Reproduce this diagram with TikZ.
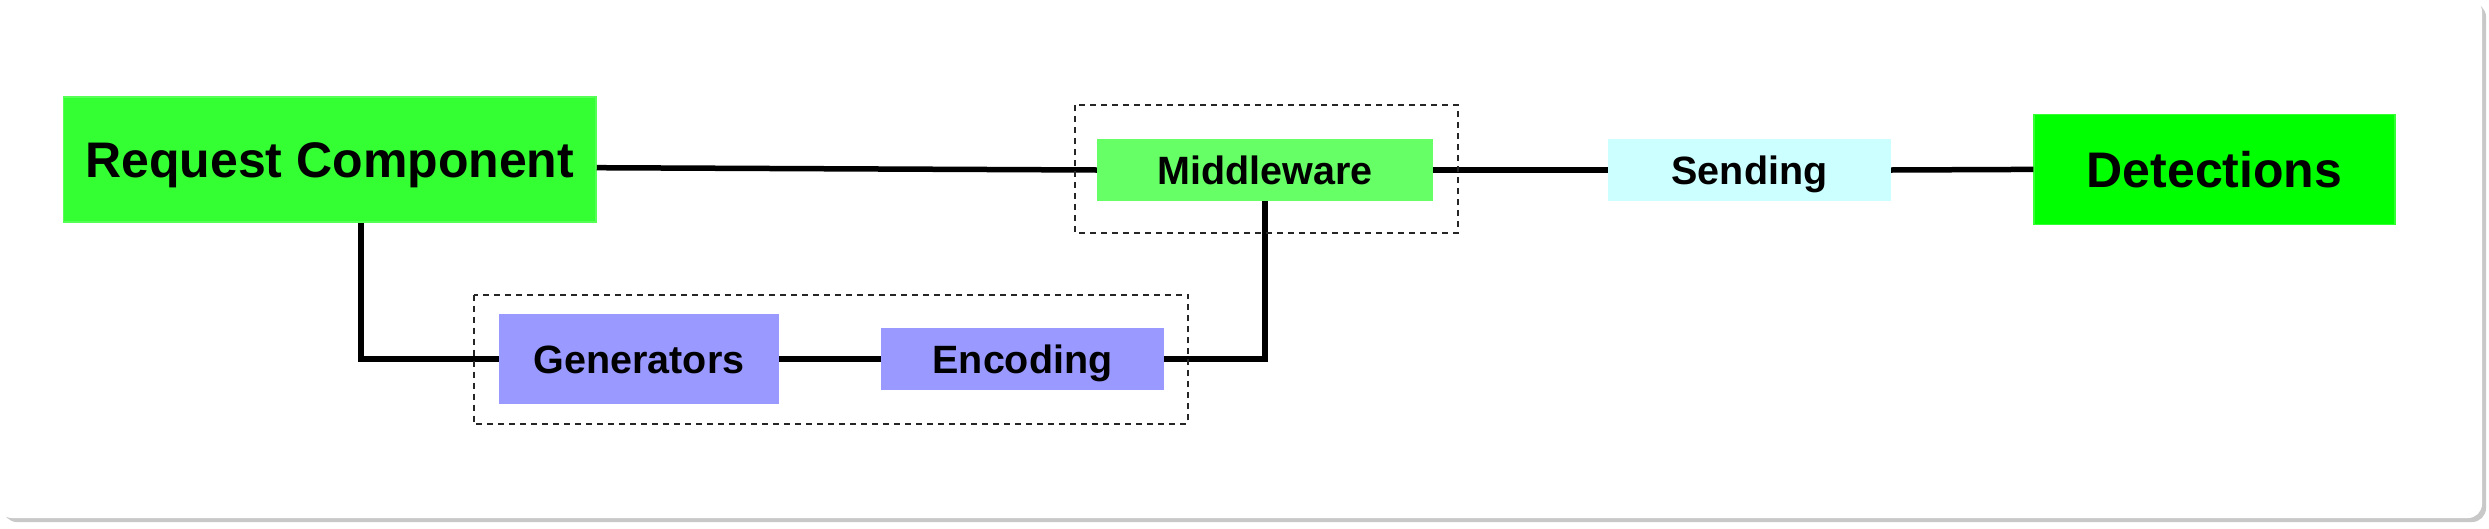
\documentclass[tikz,border=0pt]{standalone}
\usepackage{fontspec}
\setmainfont{Liberation Sans}
\usetikzlibrary{calc}
\definecolor{rcgreen}{HTML}{33FF33}
\definecolor{rcedge}{HTML}{55FF55}
\definecolor{detgreen}{HTML}{00FF00}
\definecolor{detedge}{HTML}{33FF33}
\definecolor{mwgreen}{HTML}{66FF66}
\definecolor{sendcyan}{HTML}{CCFFFF}
\definecolor{genblue}{HTML}{9999FF}
\definecolor{shadowgray}{HTML}{C8C8C8}
\begin{document}
\begin{tikzpicture}[x=1pt,y=-1pt,
  blk/.style={rectangle, inner sep=0pt, text depth=0pt, align=center},
  bigfont/.style={font=\fontsize{50}{60}\selectfont\bfseries, text height=35.8pt},
  smallfont/.style={font=\fontsize{39.5}{47}\selectfont\bfseries, text height=28.3pt},
  conn/.style={draw=black, line width=5.5pt},
  group/.style={draw=black!85, line width=2pt, dash pattern=on 6pt off 5pt}]
% canvas and card
\path[fill=white] (0,0) rectangle (2489,528);
\useasboundingbox (0,0) rectangle (2489,528);
\fill[shadowgray, rounded corners=14pt] (3,3) rectangle (2486,522);
\fill[white, rounded corners=14pt] (-2,-2) rectangle (2482,518);
% nodes
\node[blk, bigfont, fill=rcgreen, draw=rcedge, line width=1.5pt, minimum width=532.5pt, minimum height=125pt] (rc) at (329.75,159.5) {Request Component};
\node[blk, smallfont, fill=mwgreen, minimum width=336pt, minimum height=62pt] (mw) at (1265,170) {Middleware};
\node[blk, smallfont, fill=sendcyan, minimum width=283pt, minimum height=62pt] (send) at (1749.5,170) {Sending};
\node[blk, bigfont, fill=detgreen, draw=detedge, line width=1.5pt, minimum width=361pt, minimum height=110pt] (det) at (2214.5,169.4) {Detections};
\node[blk, smallfont, fill=genblue, minimum width=280pt, minimum height=90pt] (gen) at (639,359) {Generators};
\node[blk, smallfont, fill=genblue, minimum width=283pt, minimum height=62pt] (enc) at (1022.5,359) {Encoding};
% connectors
\coordinate (rcout) at ($(rc.east)+(0,8.2)$);
\coordinate (rcdown) at ($(rc.south)+(31.25,0)$);
\draw[conn] (rcout) -- (mw.west);
\draw[conn] (mw.east) -- (send.west);
\draw[conn] (send.east) -- (det.west);
\draw[conn] (rcdown) |- (gen.west);
\draw[conn] (gen.east) -- (enc.west);
\draw[conn] (enc.east) -| (mw.south);
% dashed groups
\draw[group] (1075,105) rectangle (1458,233);
\draw[group] (473.5,294.6) rectangle (1188,423.7);
\end{tikzpicture}
\end{document}
